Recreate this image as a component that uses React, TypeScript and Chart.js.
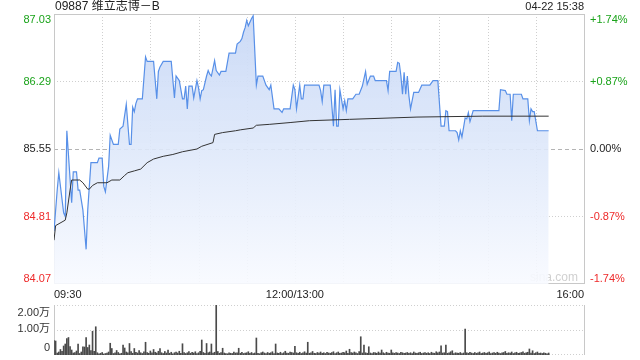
import React, { useEffect, useRef } from "react";
import { Chart, registerables } from "chart.js";
Chart.register(...registerables);

const FONT = '"Liberation Sans", Arial, "Noto Sans CJK SC", sans-serif';

// ---- data ----
const title = "09887 维立志博－B";
const stamp = "04-22 15:38";
const prevClose = 85.55;
const priceTicks = [87.03, 86.29, 85.55, 84.81, 84.07];
const pctTicks = ["+1.74%", "+0.87%", "0.00%", "-0.87%", "-1.74%"];
const timeLabels = ["09:30", "12:00/13:00", "16:00"];
const timeLabelMinutes = [0, 150, 330];
const totalMinutes = 330;
const volTicks = [20000, 10000, 0];
const volTickLabels = ["2.00万", "1.00万", "0"];

// trading minutes since 09:30 (lunch removed)
const priceMinutes = [
  0, 2, 3, 6, 7, 8, 11, 12, 14, 15, 16, 18, 20, 21, 23, 27, 28, 30, 31, 32,
  34, 35, 37, 40, 41, 43, 45, 47, 48, 49, 50, 51, 52, 55, 57, 58, 62, 64, 65, 66,
  68, 73, 75, 76, 78, 80, 81, 82, 83, 84, 86, 87, 89, 90, 91, 92, 93, 95, 96, 97,
  98, 100, 101, 103, 104, 107, 109, 113, 114, 116, 117, 118, 119, 120, 121, 123, 124, 126, 127, 130,
  132, 134, 135, 137, 140, 142, 143, 147, 149, 150, 151, 153, 154, 155, 156, 165, 166, 167, 168, 172,
  174, 175, 176, 177, 178, 180, 181, 182, 183, 186, 188, 190, 192, 194, 195, 197, 199, 200, 207, 208,
  209, 213, 214, 215, 216, 217, 218, 219, 220, 221, 222, 224, 227, 228, 229, 234, 236, 239, 241, 243,
  244, 245, 246, 250, 251, 252, 253, 254, 256, 257, 258, 259, 261, 277, 278, 281, 282, 284, 285, 286,
  291, 292, 295, 296, 297, 298, 299, 301, 308,
];
const priceValues = [
  84.65, 85.10, 85.29, 84.85, 84.81, 85.75, 84.96, 85.30, 85.30, 85.10, 85.10, 84.88, 84.45, 84.88, 85.40, 85.40, 85.45, 85.45, 85.14, 85.08,
  85.36, 85.70, 85.60, 85.60, 85.77, 85.80, 86.04, 85.60, 85.60, 86.01, 85.96, 86.05, 86.10, 86.10, 86.56, 86.51, 86.51, 86.10, 86.40, 86.45,
  86.51, 86.51, 86.11, 86.35, 86.30, 86.10, 86.10, 86.24, 85.99, 86.24, 86.24, 86.11, 86.30, 86.22, 86.10, 86.19, 86.20, 86.35, 86.41, 86.37,
  86.35, 86.52, 86.41, 86.36, 86.40, 86.40, 86.60, 86.60, 86.70, 86.73, 86.76, 86.83, 86.88, 86.96, 86.90, 86.98, 87.01, 86.25, 86.35, 86.35,
  86.25, 86.20, 86.25, 85.99, 85.99, 85.95, 85.99, 85.99, 86.25, 86.20, 85.99, 86.25, 86.10, 86.10, 86.25, 86.25, 86.19, 86.07, 86.25, 86.25,
  85.80, 86.20, 85.80, 85.80, 86.20, 85.99, 86.08, 85.97, 86.10, 86.10, 86.15, 86.15, 86.24, 86.40, 86.26, 86.35, 86.35, 86.30, 86.30, 86.19,
  86.40, 86.40, 86.50, 86.49, 86.35, 86.15, 86.39, 86.15, 86.35, 86.13, 85.99, 86.17, 86.17, 86.21, 86.25, 86.25, 86.30, 86.30, 85.80, 85.80,
  85.97, 85.96, 85.75, 85.75, 85.73, 85.65, 85.75, 85.68, 85.89, 85.88, 85.95, 85.85, 85.97, 85.97, 86.20, 86.19, 86.15, 86.15, 85.86, 86.15,
  86.15, 86.10, 86.10, 85.86, 85.99, 85.96, 85.96, 85.75, 85.75,
];

const avgMinutes = [
  0, 1, 7, 8, 10, 11, 16, 18, 21, 22, 24, 27, 33, 36, 41, 44, 46, 50, 54, 58,
  62, 68, 74, 80, 89, 92, 99, 100, 105, 113, 116, 124, 126, 134, 147, 159, 184, 226, 267, 308,
];
const avgValues = [
  84.55, 84.71, 84.77, 84.85, 85.10, 85.21, 85.21, 85.18, 85.11, 85.11, 85.15, 85.18, 85.18, 85.21, 85.21, 85.26, 85.29, 85.31, 85.33, 85.40,
  85.44, 85.47, 85.49, 85.52, 85.55, 85.58, 85.62, 85.71, 85.73, 85.75, 85.76, 85.78, 85.81, 85.82, 85.84, 85.86, 85.875, 85.90, 85.91, 85.91,
];

// volume per trading minute (0..308)
const volumes = [
  5800, 5600, 800, 1200, 2200, 1500, 3600, 4400, 6600, 7000, 3400, 2000, 800, 1000, 1600, 4400, 600, 1200, 3300, 3200,
  7000, 3000, 4000, 1800, 9500, 1500, 11300, 900, 500, 700, 1000, 400, 600, 800, 1200, 4700, 2600, 600, 900, 1800,
  1000, 500, 700, 4000, 2800, 1200, 900, 4600, 1400, 700, 2600, 1100, 800, 1800, 900, 600, 1300, 5100, 1000, 700,
  1600, 900, 2200, 1100, 800, 1500, 2600, 900, 600, 1400, 800, 2000, 700, 1100, 500, 900, 1200, 800, 1500, 700,
  4500, 1000, 600, 900, 1400, 700, 1100, 800, 1300, 600, 900, 1500, 6000, 1000, 700, 4600, 900, 1200, 4400, 800,
  1100, 20000, 1400, 700, 1000, 2700, 800, 600, 500, 900, 700, 600, 1200, 800, 900, 2700, 700, 1100, 600, 800,
  900, 1300, 700, 1000, 600, 800, 6800, 700, 500, 900, 1200, 800, 600, 1000, 700, 900, 1300, 600, 4400, 800,
  700, 1100, 600, 900, 1500, 800, 700, 1200, 1000, 800, 3500, 900, 700, 1100, 600, 900, 1300, 800, 5100, 700,
  900, 1400, 700, 600, 1000, 800, 1200, 700, 900, 600, 1100, 800, 700, 1000, 1300, 600, 900, 1200, 700, 800,
  1100, 900, 1600, 700, 2300, 1000, 800, 1200, 900, 600, 1400, 7300, 800, 4000, 900, 700, 3300, 800, 600, 1000,
  900, 700, 1200, 800, 2000, 900, 600, 1100, 800, 700, 2000, 900, 700, 1000, 800, 600, 1100, 900, 700, 800,
  1000, 700, 900, 600, 1200, 800, 700, 900, 1100, 600, 800, 1000, 700, 900, 600, 1100, 800, 700, 1300, 900,
  1200, 3700, 800, 900, 4000, 700, 900, 1300, 1700, 600, 900, 800, 700, 1000, 600, 800, 10400, 900, 700, 1100,
  800, 600, 1000, 700, 900, 1200, 600, 800, 1000, 700, 900, 1200, 600, 800, 1000, 700, 1100, 800, 600, 900,
  1000, 1400, 700, 900, 800, 1200, 600, 900, 1100, 700, 800, 1000, 1300, 700, 900, 1100, 2400, 800, 1700, 600,
  900, 1200, 700, 800, 600, 900, 700, 500, 800,
];

const GREEN = "#1aa31a";
const RED = "#ee2a2a";
const BLACK = "#222";
const BLUE = "rgb(88,144,232)";

function tickColor(v: number) {
  if (Math.abs(v - prevClose) < 1e-6) return BLACK;
  return v > prevClose ? GREEN : RED;
}

function hline(ctx: CanvasRenderingContext2D, x1: number, x2: number, y: number) {
  ctx.beginPath();
  ctx.moveTo(x1, y);
  ctx.lineTo(x2, y);
  ctx.stroke();
}
function vline(ctx: CanvasRenderingContext2D, x: number, y1: number, y2: number) {
  ctx.beginPath();
  ctx.moveTo(x, y1);
  ctx.lineTo(x, y2);
  ctx.stroke();
}

const mainDecor = {
  id: "mainDecor",
  beforeDatasetsDraw(chart: any) {
    const { ctx, chartArea: a, scales } = chart;
    const x = scales.x;
    const y = scales.y;
    ctx.save();
    ctx.lineWidth = 1;
    priceTicks.forEach((v, i) => {
      if (i === 0 || i === priceTicks.length - 1) return;
      const py = Math.round(y.getPixelForValue(v)) + 0.5;
      const isPrev = Math.abs(v - prevClose) < 1e-6;
      ctx.strokeStyle = isPrev ? "#b4b4b4" : "#cfcfcf";
      ctx.setLineDash(isPrev ? [4, 3] : [1, 2]);
      hline(ctx, a.left, a.right, py);
    });
    ctx.strokeStyle = "#cfcfcf";
    ctx.setLineDash([1, 2]);
    for (let m = 30; m < totalMinutes; m += 30) {
      const px = Math.round(x.getPixelForValue(m)) + 0.5;
      vline(ctx, px, a.top, a.bottom);
    }
    ctx.setLineDash([]);
    ctx.strokeStyle = "#c8c8c8";
    ctx.strokeRect(Math.round(a.left) + 0.5, Math.round(a.top) + 0.5, Math.round(a.right - a.left), Math.round(a.bottom - a.top) - 1);
    ctx.fillStyle = "#d0d0d0";
    ctx.font = `12px ${FONT}`;
    ctx.textAlign = "right";
    ctx.textBaseline = "alphabetic";
    ctx.fillText("sina.com", a.right - 6, a.bottom - 3);
    ctx.restore();
  },
  afterDraw(chart: any) {
    const { ctx, chartArea: a, scales } = chart;
    const x = scales.x;
    const y = scales.y;
    ctx.save();
    ctx.fillStyle = BLACK;
    ctx.textBaseline = "middle";
    ctx.textAlign = "left";
    ctx.font = `12px ${FONT}`;
    ctx.fillText(title, a.left + 1, 7);
    ctx.font = `11px ${FONT}`;
    ctx.textAlign = "right";
    ctx.fillText(stamp, a.right, 7);
    priceTicks.forEach((v, i) => {
      const py = y.getPixelForValue(v);
      let base: CanvasTextBaseline = "middle";
      if (i === 0) base = "top";
      if (i === priceTicks.length - 1) base = "bottom";
      ctx.textBaseline = base;
      ctx.fillStyle = tickColor(v);
      ctx.textAlign = "right";
      ctx.fillText(v.toFixed(2), a.left - 3, py);
      ctx.textAlign = "left";
      ctx.fillText(pctTicks[i], a.right + 6, py);
    });
    ctx.fillStyle = BLACK;
    ctx.textBaseline = "middle";
    timeLabels.forEach((t, i) => {
      const m = timeLabelMinutes[i];
      ctx.textAlign = i === 0 ? "left" : i === timeLabels.length - 1 ? "right" : "center";
      ctx.fillText(t, x.getPixelForValue(m), a.bottom + 11);
    });
    ctx.restore();
  },
};

const volDecor = {
  id: "volDecor",
  beforeDatasetsDraw(chart: any) {
    const { ctx, chartArea: a, scales } = chart;
    const y = scales.y;
    ctx.save();
    ctx.lineWidth = 1;
    ctx.strokeStyle = "#cfcfcf";
    ctx.setLineDash([1, 2]);
    volTicks.forEach((v) => {
      const py = Math.round(y.getPixelForValue(v)) + (v === 0 ? -0.5 : 0.5);
      hline(ctx, a.left, a.right, py);
    });
    ctx.setLineDash([]);
    ctx.strokeStyle = "#c8c8c8";
    vline(ctx, Math.round(a.left) + 0.5, a.top, a.bottom);
    vline(ctx, Math.round(a.right) + 0.5, a.top, a.bottom);
    ctx.restore();
  },
  afterDraw(chart: any) {
    const { ctx, chartArea: a, scales } = chart;
    const y = scales.y;
    ctx.save();
    ctx.font = `11px ${FONT}`;
    ctx.fillStyle = "#333";
    ctx.textAlign = "right";
    const nudges = [8, -1, -7];
    volTicks.forEach((v, i) => {
      ctx.textBaseline = "middle";
      ctx.fillText(volTickLabels[i], a.left - 4, y.getPixelForValue(v) + nudges[i]);
    });
    ctx.restore();
  },
};

export default function App() {
  const mainRef = useRef<HTMLCanvasElement>(null);
  const volRef = useRef<HTMLCanvasElement>(null);

  useEffect(() => {
    const main = new Chart(mainRef.current as HTMLCanvasElement, {
      type: "line",
      data: {
        datasets: [
          {
            label: "avg",
            data: avgMinutes.map((m, i) => ({ x: m, y: avgValues[i] })),
            borderColor: "#333",
            borderWidth: 1,
            pointRadius: 0,
            tension: 0,
            fill: false,
          },
          {
            label: "price",
            data: priceMinutes.map((m, i) => ({ x: m, y: priceValues[i] })),
            borderColor: BLUE,
            borderWidth: 1.2,
            pointRadius: 0,
            tension: 0,
            fill: "start",
            backgroundColor: (c: any) => {
              const chart = c.chart;
              const a = chart.chartArea;
              if (!a) return "rgba(0,0,0,0)";
              const g = chart.ctx.createLinearGradient(0, a.top, 0, a.bottom);
              g.addColorStop(0, "rgba(200,216,246,0.95)");
              g.addColorStop(0.5, "rgba(222,232,250,0.9)");
              g.addColorStop(1, "rgba(248,250,255,0.9)");
              return g;
            },
          },
        ],
      },
      options: {
        responsive: false,
        animation: false,
        events: [],
        layout: { padding: { left: 54, right: 56, top: 14, bottom: 16 } },
        plugins: { legend: { display: false }, tooltip: { enabled: false } },
        scales: {
          x: { type: "linear", min: 0, max: totalMinutes, display: false },
          y: { type: "linear", min: priceTicks[priceTicks.length - 1], max: priceTicks[0], display: false },
        },
      },
      plugins: [mainDecor],
    } as any);

    const vol = new Chart(volRef.current as HTMLCanvasElement, {
      type: "bar",
      data: {
        datasets: [
          {
            label: "vol",
            data: volumes.map((v, i) => ({ x: i, y: v })),
            backgroundColor: "#4a4a4a",
            borderWidth: 0,
            barThickness: 1,
          },
        ],
      },
      options: {
        responsive: false,
        animation: false,
        events: [],
        layout: { padding: { left: 54, right: 56, top: 5, bottom: 5 } },
        plugins: { legend: { display: false }, tooltip: { enabled: false } },
        scales: {
          x: { type: "linear", min: 0, max: totalMinutes, display: false, offset: false },
          y: { type: "linear", min: 0, max: volTicks[0], display: false },
        },
      },
      plugins: [volDecor],
    } as any);

    return () => {
      main.destroy();
      vol.destroy();
    };
  }, []);

  return (
    <div style={{ position: "fixed", left: 0, top: 0, width: 640, height: 360, background: "#fff" }}>
      <canvas ref={mainRef} width={640} height={300} style={{ position: "absolute", left: 0, top: 0 }} />
      <canvas ref={volRef} width={640} height={60} style={{ position: "absolute", left: 0, top: 300 }} />
    </div>
  );
}
